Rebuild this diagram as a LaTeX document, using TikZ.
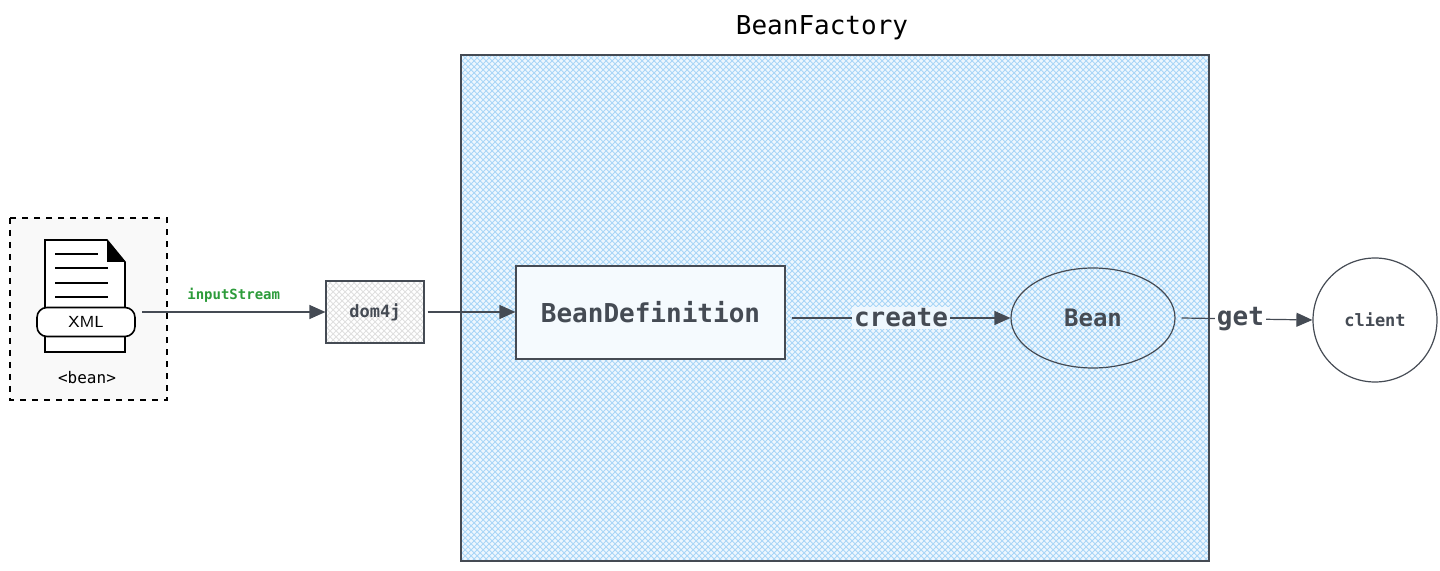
\documentclass[tikz,border=0pt]{standalone}
\usepackage{fontspec}
\setmonofont{DejaVu Sans Mono}
\usetikzlibrary{positioning,patterns,arrows.meta,shapes.geometric}
\definecolor{inkgray}{HTML}{454B54}
\definecolor{hatchblue}{HTML}{A9D6F7}
\definecolor{paleblue}{HTML}{EEF7FE}
\definecolor{streamgreen}{HTML}{2C9B3A}
\tikzset{
  conn/.style={draw=inkgray,-{Triangle[length=8pt,width=7pt]},line width=0.6pt},
  lbl/.style={font=\ttfamily\bfseries,text=inkgray},
  box/.style={draw=inkgray,line width=0.6pt,fill=white,pattern color=gray!25},
}
\begin{document}
\begin{tikzpicture}[x=0.5pt,y=-0.5pt]
\useasboundingbox (0,0) rectangle (1440,571);
    %Contenedor
    \fill[paleblue] (461,55) rectangle (1209,561);
    \draw[inkgray,line width=0.6pt,pattern=crosshatch,pattern color=hatchblue] (461,55) rectangle (1209,561);
    \node[lbl,font=\ttfamily\fontsize{13}{15}\selectfont,text=black] (title) at (822,28) {BeanFactory};

    %Archivo XML
    \draw[dashed,line width=0.7pt,fill=gray!5] (10,218) rectangle (167,400);
    \draw[line width=0.8pt,fill=white] (45,240) -- (107,240) -- (125,262) -- (125,352) -- (45,352) -- cycle;
    \fill (107,240) -- (125,262) -- (107,262) -- cycle;
    \foreach \y/\l in {254/98,268/108,283/108,297/108}{
        \draw[line width=0.7pt] (55,\y) -- (\l,\y);
    }
    \node[draw,line width=0.8pt,fill=white,rounded corners=5pt,minimum width=49pt,minimum height=14.5pt,font=\sffamily\fontsize{8}{9}\selectfont] (xml) at (86,322) {XML};
    \node[font=\ttfamily\fontsize{8}{9}\selectfont] (beantag) at (87,378) {<bean>};
    \coordinate (xmlout) at (142,312);

    %Nodos
    \node[box,pattern=crosshatch,minimum width=49pt,minimum height=31pt] (dom) at (375,312) {};
    \node[lbl,font=\ttfamily\bfseries\fontsize{8.5}{10}\selectfont] at (dom) {dom4j};
    \fill[paleblue!60!white] (516,266) rectangle (785,359);
    \node[draw=inkgray,line width=0.6pt,minimum width=134.5pt,minimum height=46.5pt,lbl,font=\ttfamily\bfseries\fontsize{13}{15}\selectfont] (def) at (650.5,312.5) {BeanDefinition};
    \node[draw=inkgray,line width=0.6pt,ellipse,minimum width=82pt,minimum height=50pt,lbl,font=\ttfamily\bfseries\fontsize{12}{14}\selectfont,inner sep=0pt] (bean) at (1093,318) {Bean};
    \node[draw=inkgray,line width=0.6pt,circle,minimum size=62pt,fill=white,lbl,font=\ttfamily\bfseries\fontsize{8.5}{10}\selectfont,inner sep=0pt] (client) at (1375,320) {client};

    %Flechas
    \draw[conn] (xmlout) -- (dom.west) node[midway,above=1pt,font=\ttfamily\bfseries\fontsize{7}{8}\selectfont,text=streamgreen] {inputStream};
    \draw[conn] (dom.east) ++(3,0) -- (def.west |- dom.east);
    \draw[conn] ([xshift=3pt]def.east |- bean.west) -- (bean.west) node[midway,fill=paleblue,inner sep=1pt,lbl,font=\ttfamily\bfseries\fontsize{13}{15}\selectfont] {create};
    \draw[conn] ([xshift=3pt]bean.east) -- (client.west) node[pos=0.45,fill=white,inner sep=1pt,lbl,font=\ttfamily\bfseries\fontsize{13}{15}\selectfont] {get};
\end{tikzpicture}
\end{document}
